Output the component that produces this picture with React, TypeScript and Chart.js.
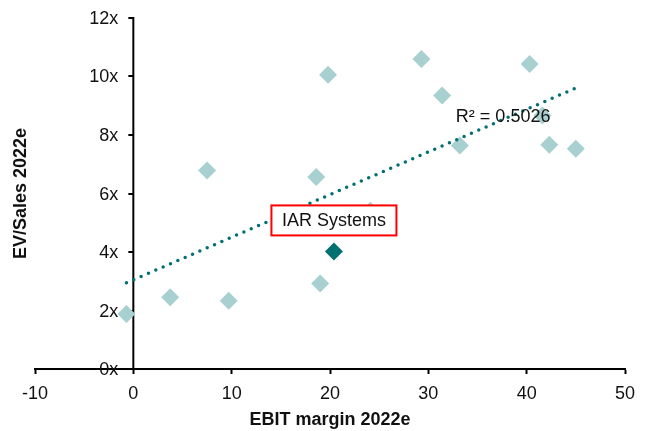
import React, { useEffect, useRef } from "react";
import { Chart, registerables } from "chart.js";

Chart.register(...registerables);

// ---- Data ----
const peerMargins = [-0.7, 3.75, 9.7, 7.5, 18.6, 19.0, 19.8, 24.1, 25.3, 29.3, 31.4, 33.2, 40.3, 41.6, 42.3, 45.0];
const peerMultiples = [1.88, 2.45, 2.33, 6.79, 6.56, 2.92, 10.06, 5.41, 5.34, 10.6, 9.35, 7.64, 10.43, 8.67, 7.67, 7.53];
const iarMargins = [20.4];
const iarMultiples = [4.02];
const highlightLabel = "IAR Systems";
const r2Label = "R² = 0.5026";
const r2LabelAt = { x: 32.8, y: 8.62 };
const xTitle = "EBIT margin 2022e";
const yTitle = "EV/Sales 2022e";
const xMin = -10;
const xMax = 50;
const xStep = 10;
const yTickValues = [0, 2, 4, 6, 8, 10, 12];
const yTickLabels = ["0x", "2x", "4x", "6x", "8x", "10x", "12x"];
const yAxisAtX = 0;

const FONT = "Arial, 'Liberation Sans', sans-serif";
const LIGHT = "#a8d0d0";
const DARK = "#007070";

function regression(xs: number[], ys: number[]) {
  const n = xs.length;
  const mx = xs.reduce((a, b) => a + b, 0) / n;
  const my = ys.reduce((a, b) => a + b, 0) / n;
  let sxy = 0;
  let sxx = 0;
  for (let i = 0; i < n; i++) {
    sxy += (xs[i] - mx) * (ys[i] - my);
    sxx += (xs[i] - mx) * (xs[i] - mx);
  }
  const slope = sxy / sxx;
  return { slope, intercept: my - slope * mx };
}

export default function App() {
  const ref = useRef<HTMLCanvasElement | null>(null);

  useEffect(() => {
    if (!ref.current) return;
    const { slope, intercept } = regression(peerMargins, peerMultiples);
    const loX = Math.min(...peerMargins);
    const hiX = Math.max(...peerMargins);
    const trend = [
      { x: loX, y: intercept + slope * loX },
      { x: hiX, y: intercept + slope * hiX },
    ];

    const annot = {
      id: "annot",
      beforeDatasetsDraw(chart: any) {
        const { ctx, scales } = chart;
        const xs = scales.x;
        const ys = scales.y;
        const ax = xs.getPixelForValue(yAxisAtX);
        ctx.save();
        // y axis line
        ctx.strokeStyle = "#000";
        ctx.lineWidth = 2;
        ctx.beginPath();
        ctx.moveTo(ax, ys.getPixelForValue(yTickValues[yTickValues.length - 1]) - 1);
        ctx.lineTo(ax, ys.getPixelForValue(yTickValues[0]));
        ctx.stroke();
        // tick marks + labels
        ctx.fillStyle = "#111";
        ctx.font = `18px ${FONT}`;
        ctx.textAlign = "right";
        ctx.textBaseline = "middle";
        yTickValues.forEach((v, i) => {
          const py = Math.round(ys.getPixelForValue(v));
          ctx.beginPath();
          ctx.moveTo(ax - 5, py);
          ctx.lineTo(ax, py);
          ctx.stroke();
          ctx.fillText(yTickLabels[i], ax - 15, py + 1);
        });
        ctx.restore();
      },
      afterDatasetsDraw(chart: any) {
        const { ctx, scales } = chart;
        const xs = scales.x;
        const ys = scales.y;
        ctx.save();
        // highlight box
        const cx = xs.getPixelForValue(iarMargins[0]);
        const cy = ys.getPixelForValue(iarMultiples[0]) - 31;
        const w = 125;
        const h = 30;
        ctx.fillStyle = "#ffffff";
        ctx.fillRect(cx - w / 2, cy - h / 2, w, h);
        ctx.strokeStyle = "#ff0000";
        ctx.lineWidth = 2;
        ctx.strokeRect(cx - w / 2, cy - h / 2, w, h);
        ctx.fillStyle = "#111";
        ctx.font = `18px ${FONT}`;
        ctx.textAlign = "center";
        ctx.textBaseline = "middle";
        ctx.fillText(highlightLabel, cx, cy + 1);
        // R2 label
        ctx.textAlign = "left";
        ctx.fillText(r2Label, xs.getPixelForValue(r2LabelAt.x), ys.getPixelForValue(r2LabelAt.y));
        ctx.restore();
      },
      afterDraw(chart: any) {
        const { ctx, chartArea } = chart;
        ctx.save();
        ctx.fillStyle = "#111";
        ctx.font = `bold 18px ${FONT}`;
        ctx.textAlign = "center";
        ctx.textBaseline = "middle";
        ctx.fillText(xTitle, (chartArea.left + chartArea.right) / 2, 420);
        ctx.translate(21, (chartArea.top + chartArea.bottom) / 2);
        ctx.rotate(-Math.PI / 2);
        ctx.fillText(yTitle, 0, 0);
        ctx.restore();
      },
    };

    const chart = new Chart(ref.current, {
      type: "scatter",
      data: {
        datasets: [
          {
            type: "line",
            label: "trend",
            data: trend,
            borderColor: DARK,
            borderWidth: 3.5,
            borderDash: [0, 8],
            borderCapStyle: "round",
            pointRadius: 0,
            fill: false,
          } as any,
          {
            label: highlightLabel,
            data: iarMargins.map((x, i) => ({ x, y: iarMultiples[i] })),
            pointStyle: "rectRot",
            pointRadius: 9,
            backgroundColor: DARK,
            borderWidth: 0,
          },
          {
            label: "Peers",
            data: peerMargins.map((x, i) => ({ x, y: peerMultiples[i] })),
            pointStyle: "rectRot",
            pointRadius: 9,
            backgroundColor: LIGHT,
            borderWidth: 0,
          },
        ],
      },
      options: {
        animation: false,
        responsive: true,
        maintainAspectRatio: false,
        layout: { padding: { top: 18, right: 26, left: 35, bottom: 21 } },
        plugins: { legend: { display: false }, tooltip: { enabled: false } },
        scales: {
          x: {
            type: "linear",
            min: xMin,
            max: xMax,
            afterFit: (s: any) => {
              s.height = 41;
            },
            ticks: {
              stepSize: xStep,
              color: "#111",
              font: { family: FONT, size: 18 },
              padding: 9,
            },
            grid: {
              drawOnChartArea: false,
              drawTicks: true,
              tickLength: 5,
              tickWidth: 2,
              tickColor: "#000",
            },
            border: { display: true, color: "#000", width: 2 },
          },
          y: {
            type: "linear",
            position: { x: yAxisAtX } as any,
            min: yTickValues[0],
            max: yTickValues[yTickValues.length - 1],
            ticks: { display: false },
            grid: { display: false },
            border: { display: false },
          },
        },
      },
      plugins: [annot],
    });
    return () => chart.destroy();
  }, []);

  return (
    <div style={{ position: "fixed", left: 0, top: 0, width: 651, height: 431, background: "#fff" }}>
      <canvas ref={ref} />
    </div>
  );
}
